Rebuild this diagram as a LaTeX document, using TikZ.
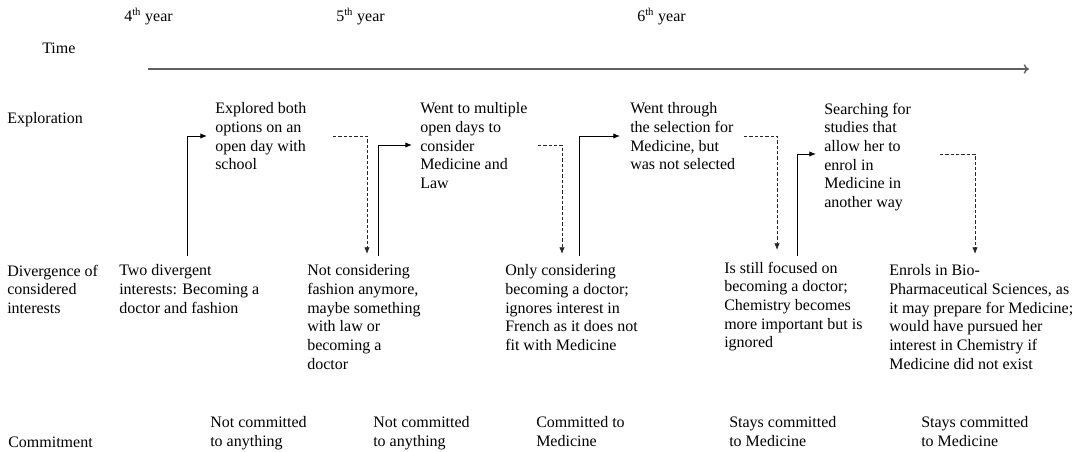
\documentclass[tikz,border=0pt]{standalone}
\usepackage{fontspec}
\setmainfont{Liberation Serif}
\usetikzlibrary{arrows.meta}
\begin{document}
\begin{tikzpicture}[x=0.75pt,y=-0.75pt,
  txt/.style={anchor=north west,inner sep=0pt,align=left,font=\fontsize{12}{14}\selectfont,execute at begin node=\strut},
  lbl/.style={anchor=base west,inner sep=0pt,font=\fontsize{12}{14}\selectfont},
  solidarrow/.style={line width=0.7pt,-{Latex[length=5pt,width=4pt]}},
  dasharrow/.style={line width=0.6pt,draw=black!85,dash pattern=on 2.4pt off 1.6pt,-{Latex[length=5pt,width=4pt]}},
  timearrow/.style={line width=1.1pt,draw=black!62,-{To[length=4pt,width=7pt]}}]
\useasboundingbox (0,0) rectangle (1074,451);

% year labels
\node[lbl] (y4) at (124,21) {4\textsuperscript{th} year};
\node[lbl] (y5) at (336,21) {5\textsuperscript{th} year};
\node[lbl] (y6) at (637,21) {6\textsuperscript{th} year};

% row labels
\node[lbl] (ltime) at (42,53) {Time};
\node[lbl] (lexp) at (7,123) {Exploration};
\node[txt] (ldiv) at (7,264.5) {Divergence of\\considered\\interests};
\node[lbl] (lcom) at (8,447.5) {Commitment};

% time axis
\coordinate (t0) at (148,69);
\coordinate (t1) at (1029,69);
\draw[timearrow] (t0) -- (t1);

% exploration
\node[txt] (e1) at (215,102.5) {Explored both\\options on an\\open day with\\school};
\node[txt] (e2) at (420,102.5) {Went to multiple\\open days to\\consider\\Medicine and\\Law};
\node[txt] (e3) at (630,102.5) {Went through\\the selection for\\Medicine, but\\was not selected};
\node[txt] (e4) at (824,102.5) {Searching for\\studies that\\allow her to\\enrol in\\Medicine in\\another way};

% divergence
\node[txt] (d1) at (119,264.5) {Two divergent\\interests: Becoming a\\doctor and fashion};
\node[txt] (d2) at (307,264.5) {Not considering\\fashion anymore,\\maybe something\\with law or\\becoming a\\doctor};
\node[txt] (d3) at (505,264.5) {Only considering\\becoming a doctor;\\ignores interest in\\French as it does not\\fit with Medicine};
\node[txt] (d4) at (724,261.5) {Is still focused on\\becoming a doctor;\\Chemistry becomes\\more important but is\\ignored};
\node[txt] (d5) at (889,264.5) {Enrols in Bio-\\Pharmaceutical Sciences, as\\it may prepare for Medicine;\\would have pursued her\\interest in Chemistry if\\Medicine did not exist};

% commitment
\node[txt] (c1) at (210,416.5) {Not committed\\to anything};
\node[txt] (c2) at (373,416.5) {Not committed\\to anything};
\node[txt] (c3) at (536,416.5) {Committed to\\Medicine};
\node[txt] (c4) at (729,416.5) {Stays committed\\to Medicine};
\node[txt] (c5) at (921,416.5) {Stays committed\\to Medicine};

% connector end points
\coordinate (s1a) at (187,256);  \coordinate (s1b) at (207,136);
\coordinate (q1a) at (333,136);  \coordinate (q1b) at (367,254);
\coordinate (s2a) at (378,256);  \coordinate (s2b) at (412,145);
\coordinate (q2a) at (538,145);  \coordinate (q2b) at (562,254);
\coordinate (s3a) at (579,256);  \coordinate (s3b) at (620,136);
\coordinate (q3a) at (744,136);  \coordinate (q3b) at (777,250);
\coordinate (s4a) at (797,256);  \coordinate (s4b) at (816,154);
\coordinate (q4a) at (940,154);  \coordinate (q4b) at (975,254);

\draw[solidarrow] (s1a) |- (s1b);
\draw[dasharrow] (q1a) -| (q1b);
\draw[solidarrow] (s2a) |- (s2b);
\draw[dasharrow] (q2a) -| (q2b);
\draw[solidarrow] (s3a) |- (s3b);
\draw[dasharrow] (q3a) -| (q3b);
\draw[solidarrow] (s4a) |- (s4b);
\draw[dasharrow] (q4a) -| (q4b);
\end{tikzpicture}
\end{document}
